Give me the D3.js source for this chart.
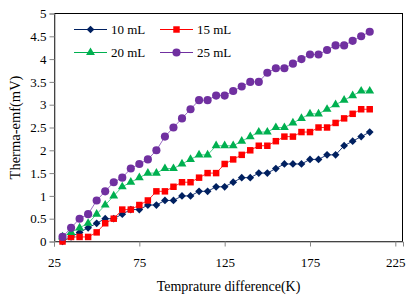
<!DOCTYPE html>
<html>
<head>
<meta charset="utf-8">
<script src="https://cdn.jsdelivr.net/npm/d3@7"></script>
<style>
  body { margin: 0; background: #fff; }
  svg { display: block; }
  text { font-family: "Liberation Serif", "Times New Roman", serif; fill: #000; }
</style>
</head>
<body>
<svg id="chart" width="411" height="296"></svg>
<script>
// temperature difference (K)
var temps = [30, 35, 40, 45, 50, 55, 60, 65, 70, 75, 80, 85, 90, 95, 100, 105, 110, 115, 120, 125,
    130, 135, 140, 145, 150, 155, 160, 165, 170, 175, 180, 185, 190, 195, 200, 205, 210]

// thermo-emf (mV) for each volume
var emf10 = [0.0, 0.1, 0.2, 0.3, 0.4, 0.5, 0.5, 0.6, 0.7, 0.7, 0.8, 0.8, 0.9, 0.9, 1.0, 1.0, 1.1, 1.1, 1.2, 1.2,
    1.3, 1.4, 1.4, 1.5, 1.5, 1.6, 1.7, 1.7, 1.7, 1.8, 1.8, 1.9, 1.9, 2.1, 2.2, 2.3, 2.4]
var emf15 = [0.0, 0.1, 0.1, 0.1, 0.2, 0.4, 0.5, 0.7, 0.7, 0.8, 0.9, 1.1, 1.1, 1.2, 1.3, 1.3, 1.4, 1.5, 1.5, 1.7,
    1.8, 1.9, 2.0, 2.1, 2.1, 2.2, 2.3, 2.3, 2.4, 2.4, 2.5, 2.5, 2.6, 2.7, 2.8, 2.9, 2.9]
var emf20 = [0.1, 0.2, 0.3, 0.4, 0.6, 0.8, 1.0, 1.2, 1.3, 1.4, 1.5, 1.5, 1.6, 1.6, 1.7, 1.8, 1.9, 1.9, 2.1, 2.1,
    2.1, 2.2, 2.3, 2.4, 2.4, 2.5, 2.5, 2.6, 2.7, 2.8, 2.8, 2.9, 3.0, 3.1, 3.2, 3.3, 3.3]
var emf25 = [0.1, 0.3, 0.5, 0.6, 0.9, 1.1, 1.3, 1.4, 1.6, 1.7, 1.8, 2.0, 2.3, 2.5, 2.7, 2.9, 3.1, 3.1, 3.2, 3.2,
    3.3, 3.4, 3.5, 3.5, 3.7, 3.8, 3.8, 3.9, 4.0, 4.1, 4.1, 4.2, 4.3, 4.3, 4.4, 4.5, 4.6]

var seriesNames = ["10 mL", "15 mL", "20 mL", "25 mL"]
var xTicks = [25, 75, 125, 175, 225]
var yTicks = [0, 0.5, 1, 1.5, 2, 2.5, 3, 3.5, 4, 4.5, 5]

var width = 411
var height = 296
var margin = { top: 13, right: 8, bottom: 54, left: 54 }
var svg = d3.select("#chart")

var series = [
    { name: seriesNames[0], values: emf10, color: "#002060", line: "#1f3a78", shape: "diamond" },
    { name: seriesNames[1], values: emf15, color: "#ff0000", line: "#ff3030", shape: "square" },
    { name: seriesNames[2], values: emf20, color: "#00b050", line: "#4fcf8c", shape: "triangle" },
    { name: seriesNames[3], values: emf25, color: "#7030a0", line: "#9a6cc2", shape: "circle" }
]

// 比例尺
var xScale = d3.scaleLinear()
    .domain([25, 229.5])
    .range([margin.left, width - margin.right])
var yScale = d3.scaleLinear()
    .domain([0, 5])
    .range([height - margin.bottom - 0.5, margin.top + 0.5])

function markerPath(shape) {
    if (shape == "diamond") return d3.symbol().type(d3.symbolSquare).size(30)()
    if (shape == "square") return d3.symbol().type(d3.symbolSquare).size(42)()
    if (shape == "triangle") return d3.symbol().type(d3.symbolTriangle).size(34)()
    return d3.symbol().type(d3.symbolCircle).size(52)()
}
function markerTransform(shape, x, y) {
    if (shape == "diamond") return "translate(" + x + "," + y + ") rotate(45)"
    return "translate(" + x + "," + y + ")"
}

// 绘图区边框
svg.append("rect")
    .attr("x", margin.left + 0.5)
    .attr("y", margin.top + 0.5)
    .attr("width", width - margin.left - margin.right - 1)
    .attr("height", height - margin.top - margin.bottom - 1)
    .attr("fill", "none")
    .attr("stroke", "#000")

// 坐标轴
var xAxis = d3.axisBottom(xScale).tickValues(xTicks).tickSize(5).tickPadding(11)
var yAxis = d3.axisLeft(yScale).tickValues(yTicks).tickSize(5).tickPadding(3)
    .tickFormat(function (d) { return String(d) })

var gx = svg.append("g")
    .attr("class", "xAxis")
    .attr("transform", "translate(0," + (height - margin.bottom - 0.5) + ")")
    .call(xAxis)
var gy = svg.append("g")
    .attr("class", "yAxis")
    .attr("transform", "translate(" + (margin.left + 0.5) + ",0)")
    .call(yAxis)

svg.selectAll(".xAxis path, .yAxis path, .xAxis line, .yAxis line").attr("stroke", "#868686")
svg.selectAll(".xAxis text, .yAxis text")
    .attr("font-family", "Liberation Serif")
    .attr("font-size", 13)
    .attr("fill", "#000")

// 坐标轴标题
svg.append("text")
    .attr("x", (margin.left + width - margin.right) / 2)
    .attr("y", 291)
    .attr("text-anchor", "middle")
    .attr("font-size", 14)
    .text("Temprature difference(K)")
svg.append("text")
    .attr("transform", "translate(19.5," + (margin.top + height - margin.bottom) / 2 + ") rotate(-90)")
    .attr("text-anchor", "middle")
    .attr("font-size", 14.5)
    .text("Therma-emf(mV)")

// 数据
var line = d3.line()
    .x(function (d) { return xScale(d[0]) })
    .y(function (d) { return yScale(d[1]) })

series.forEach(function (s) {
    var pts = temps.map(function (t, i) { return [t, s.values[i]] })
    var g = svg.append("g").attr("class", "series")
    g.append("path")
        .datum(pts)
        .attr("d", line)
        .attr("fill", "none")
        .attr("stroke", s.line)
        .attr("stroke-width", 1)
    g.selectAll("path.mark")
        .data(pts)
        .enter()
        .append("path")
        .attr("class", "mark")
        .attr("d", markerPath(s.shape))
        .attr("transform", function (d) { return markerTransform(s.shape, xScale(d[0]), yScale(d[1])) })
        .attr("fill", s.color)
})

// 图例
var legendPos = [[74, 29.5], [160, 29.5], [74, 52.5], [160, 52.5]]
series.forEach(function (s, i) {
    var lx = legendPos[i][0], ly = legendPos[i][1]
    var lg = svg.append("g").attr("class", "legend")
    lg.append("line")
        .attr("x1", lx).attr("x2", lx + 33)
        .attr("y1", ly).attr("y2", ly)
        .attr("stroke", s.color)
        .attr("stroke-width", 1.2)
    lg.append("path")
        .attr("d", markerPath(s.shape))
        .attr("transform", markerTransform(s.shape, lx + 16.5, ly))
        .attr("fill", s.color)
    lg.append("text")
        .attr("x", lx + 37)
        .attr("y", ly + 4.5)
        .attr("font-size", 13)
        .text(s.name)
})
</script>
</body>
</html>
